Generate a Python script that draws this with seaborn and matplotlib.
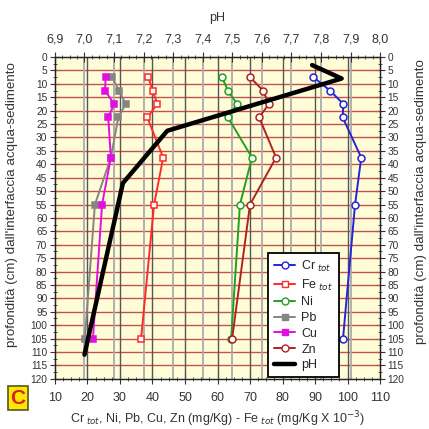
import numpy as np
import pandas as pd
import seaborn as sns
import matplotlib.pyplot as plt
from matplotlib.lines import Line2D
from matplotlib.ticker import MultipleLocator, FixedLocator, FuncFormatter
from matplotlib.transforms import blended_transform_factory

# depth of the sediment samples (cm)
depth = [7.5, 12.5, 17.5, 22.5, 37.5, 55, 105]

cr_tot = [89.5, 94.6, 98.7, 98.5, 104.2, 102.3, 98.6]
fe_tot = [38.7, 40.1, 41.5, 38.4, 43.3, 40.5, 36.5]
ni = [61.4, 63.2, 66.0, 63.2, 70.6, 66.9, 64.2]
pb = [27.6, 29.7, 31.8, 29.5, 27.2, 22.3, 19.2]
cu = [25.6, 25.4, 28.2, 26.4, 27.2, 24.5, 21.7]
zn = [70.0, 74.0, 75.8, 72.8, 78.0, 70.0, 64.5]

ph_depth = [3, 8, 27.5, 47, 111]
ph = [7.77, 7.87, 7.28, 7.13, 7.00]

ph_ticks = [6.9, 7.0, 7.1, 7.2, 7.3, 7.4, 7.5, 7.6, 7.7, 7.8, 7.9, 8.0]

sns.set_style("white")
plt.rcParams['font.family'] = ['Liberation Sans', 'DejaVu Sans']

fig = plt.figure(figsize=(4.29, 4.29), dpi=100)
ax = fig.add_axes([0.128, 0.117, 0.758, 0.750])
ax.set_facecolor('#FFFDD8')

df = pd.DataFrame({'depth': depth, 'Cr': cr_tot, 'Fe': fe_tot, 'Ni': ni,
                   'Pb': pb, 'Cu': cu, 'Zn': zn})

series = [
    ('Cr', 'Cr$_{\\ tot}$', '#2424D8', 'o', 'white'),
    ('Fe', 'Fe$_{\\ tot}$', '#FF2A2A', 's', 'white'),
    ('Ni', 'Ni', '#22A022', 'o', 'white'),
    ('Pb', 'Pb', '#858585', 's', '#858585'),
    ('Cu', 'Cu', '#E010E0', 's', '#E010E0'),
    ('Zn', 'Zn', '#B02222', 'o', 'white'),
]

ax.set_xlim(10, 110)
ax.set_ylim(120, 0)

# grid: red horizontal lines every 5 cm, dark vertical lines every 10
for d in np.arange(5, 120, 5):
    ax.axhline(d, color='#C45050', lw=1.0, zorder=1)
for v in np.arange(20, 110, 10):
    ax.axvline(v, color='#555555', lw=1.0, zorder=1)

ax2 = ax.twiny()
ax2.set_xlim(6.9, 8.0)
trans = blended_transform_factory(ax2.transData, ax.transAxes)
for p in ph_ticks[1:-1]:
    ax.plot([p, p], [0, 1], transform=trans, color='#ABABAB', lw=1.3, zorder=1)

handles = []
for col, lab, c, m, fc in series:
    sns.lineplot(data=df, x=col, y='depth', sort=False, estimator=None,
                 color=c, marker=m, markersize=5, markerfacecolor=fc,
                 markeredgecolor=c, markeredgewidth=1.1, lw=1.4, ax=ax, zorder=3)
    handles.append(Line2D([], [], color=c, marker=m, markersize=5,
                          markerfacecolor=fc, markeredgecolor=c, lw=1.4, label=lab))

sns.lineplot(x=ph, y=ph_depth, sort=False, estimator=None, color='black',
             lw=3.2, ax=ax2, zorder=4)
ax2.set_ylim(120, 0)
handles.append(Line2D([], [], color='black', lw=3.2, label='pH'))

# ticks
tc = '#333333'
fs = 9
ax.xaxis.set_major_locator(MultipleLocator(10))
ax.xaxis.set_minor_locator(MultipleLocator(2.5))
ax.yaxis.set_major_locator(MultipleLocator(5))
ax.yaxis.set_minor_locator(MultipleLocator(2.5))
ax.tick_params(axis='x', which='both', direction='inout', bottom=True, top=False,
               labelsize=fs, colors=tc, pad=6)
ax.tick_params(axis='x', which='major', length=7)
ax.tick_params(axis='x', which='minor', length=3)
ax.tick_params(axis='y', which='both', direction='inout', left=True, right=True,
               labelleft=True, labelright=True, labelsize=7.3, colors=tc, pad=2)
ax.tick_params(axis='y', which='major', length=7)
ax.tick_params(axis='y', which='minor', length=3)

ax2.xaxis.set_major_locator(FixedLocator(ph_ticks))
ax2.xaxis.set_minor_locator(MultipleLocator(0.025))
ax2.xaxis.set_major_formatter(FuncFormatter(lambda v, pos: f"{v:.1f}".replace('.', ',')))
ax2.tick_params(axis='x', which='both', direction='inout', labelsize=fs,
                colors=tc, pad=5)
ax2.tick_params(axis='x', which='major', length=7)
ax2.tick_params(axis='x', which='minor', length=3)
ax2.set_xlabel('pH', fontsize=fs, color=tc, labelpad=9)
ax2.set_ylabel('')
ax2.tick_params(axis='y', left=False, right=False, labelleft=False, labelright=False)

for a in (ax, ax2):
    for s in a.spines.values():
        s.set_color('#222222')
        s.set_linewidth(0.9)

ax.set_xlabel('Cr$_{\\ tot}$, Ni, Pb, Cu, Zn (mg/Kg) - Fe$_{\\ tot}$ (mg/Kg X 10$^{-3}$)',
              fontsize=fs, color=tc, labelpad=4)
ylab = "profondità (cm) dall'interfaccia acqua-sedimento"
ax.set_ylabel(ylab, fontsize=9.6, color=tc)
ax.yaxis.set_label_coords(-0.115, 0.54)
fig.text(0.982, 0.53, ylab, rotation=90, fontsize=9.6, color=tc,
         ha='center', va='center')

leg = ax.legend(handles=handles, loc='lower right', bbox_to_anchor=(0.874, 0.006),
                borderaxespad=0, fontsize=fs, frameon=True, fancybox=False,
                framealpha=1, edgecolor='black', handlelength=1.7,
                handletextpad=0.5, borderpad=0.45, labelspacing=0.3)
leg.get_frame().set_linewidth(1.3)
leg.set_zorder(10)

fig.text(0.042, 0.072, 'C', fontsize=15, fontweight='bold', color='#E02020',
         ha='center', va='center',
         bbox=dict(boxstyle='square,pad=0.12', facecolor='#FFE800',
                   edgecolor='#555522', lw=1.2))

fig.savefig('out.png', dpi=100)
